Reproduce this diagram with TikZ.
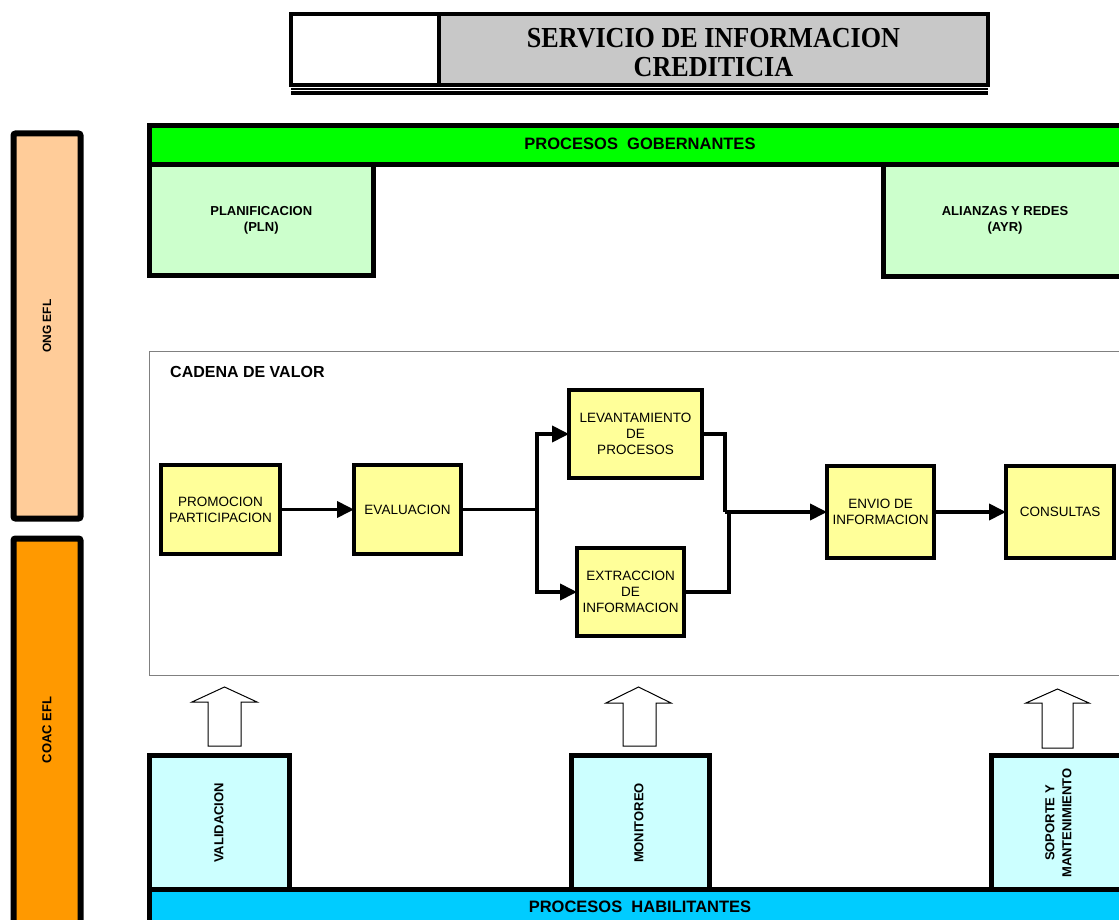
\documentclass[tikz,border=0pt]{standalone}
\usepackage{fontspec}
\setmainfont{Liberation Sans}
\newfontfamily\titlefont[FakeStretch=0.9]{Liberation Serif}
\usetikzlibrary{arrows.meta}
\definecolor{peach}{HTML}{FFCC99}
\definecolor{orangebar}{HTML}{FF9900}
\definecolor{greenbar}{HTML}{00FF00}
\definecolor{lightgreen}{HTML}{CCFFCC}
\definecolor{yellowbox}{HTML}{FFFF99}
\definecolor{lightcyan}{HTML}{CCFFFF}
\definecolor{bluebar}{HTML}{00CCFF}
\definecolor{titlegray}{HTML}{C8C8C8}
\definecolor{framegray}{HTML}{808080}
\begin{document}
\begin{tikzpicture}[x=1pt,y=-1pt,
  stepbox/.style={draw, line width=4pt, fill=yellowbox, inner sep=0pt, outer sep=0pt,
    align=center, font=\fontsize{13.5}{16}\selectfont},
  flow/.style={line width=3.8pt, -{Triangle[length=17pt,width=16pt]}},
  plain/.style={line width=3.8pt},
  heavy/.style={draw, line width=5pt},
  boldlbl/.style={font=\bfseries\fontsize{13}{16}\selectfont, align=center, inner sep=0pt},
  barlbl/.style={font=\bfseries\fontsize{16.5}{19}\selectfont, inner sep=0pt},
  blockarrow/.style={draw, line width=1pt, fill=white, line join=miter}
]
\useasboundingbox (0,0) rectangle (1119,920);
\clip (0,0) rectangle (1119,920);

% ---- title ----
\fill[titlegray] (439,14) rectangle (988,85);
\draw[line width=4pt] (291,14) rectangle (988,85);
\draw[line width=4pt] (439,14) -- (439,85);
\draw[line width=1.5pt] (291,89) -- (988,89);
\draw[line width=3.5pt] (291,93) -- (988,93);
\node[font=\titlefont\bfseries\fontsize{29}{29}\selectfont, align=center, inner sep=0pt] (title) at (713.5,52.5) {SERVICIO DE INFORMACION\\CREDITICIA};

% ---- left bars ----
\draw[line width=6pt, fill=peach, rounded corners=2pt] (13.5,133.5) rectangle (80.5,518.5);
\node[rotate=90, font=\bfseries\fontsize{12}{14}\selectfont, inner sep=0pt] (ong) at (47,326) {ONG EFL};
\draw[line width=6pt, fill=orangebar, rounded corners=2pt] (13.5,538.5) rectangle (80.5,940);
\node[rotate=90, font=\bfseries\fontsize{13}{16}\selectfont, inner sep=0pt] (coac) at (47,730) {COAC EFL};

% ---- procesos gobernantes ----
\draw[heavy, fill=lightgreen] (149.5,164.5) rectangle (373,275);
\node[boldlbl] (plan) at (261.25,220) {PLANIFICACION\\(PLN)};
\draw[heavy, fill=lightgreen] (883.5,164.5) rectangle (1126,276);
\node[boldlbl] (ayr) at (1005,220) {ALIANZAS Y REDES\\(AYR)};
\draw[heavy, fill=greenbar] (149.5,125.5) rectangle (1135,164.5);
\node[barlbl] (gob) at (640,144) {PROCESOS\ \ GOBERNANTES};

% ---- cadena de valor ----
\draw[line width=1pt, framegray] (149,351) rectangle (1135,675);
\node[font=\bfseries\fontsize{16}{19}\selectfont, anchor=west, inner sep=0pt] (cadena) at (170,372) {CADENA DE VALOR};

\node[stepbox, minimum width=119pt, minimum height=89pt] (promo) at (220.5,509.5) {PROMOCION\\PARTICIPACION};
\node[stepbox, minimum width=107pt, minimum height=89pt] (eval) at (407.5,509.5) {EVALUACION};
\node[stepbox, minimum width=133pt, minimum height=88pt] (lev) at (635.5,434) {LEVANTAMIENTO\\DE\\PROCESOS};
\node[stepbox, minimum width=107pt, minimum height=88pt] (ext) at (630.5,592) {EXTRACCION\\DE\\INFORMACION};
\node[stepbox, minimum width=107pt, minimum height=92pt] (envio) at (880.5,512) {ENVIO DE\\INFORMACION};
\node[stepbox, minimum width=108pt, minimum height=92pt] (cons) at (1060,512) {CONSULTAS};

\coordinate (split) at (537,509.5);
\coordinate (m1) at (725,512);
\coordinate (m2) at (729,512);

\draw[flow] (promo.east) -- (eval.west);
\draw[plain] (eval.east) -- (split);
\draw[flow] (split) |- (lev.west);
\draw[flow] (split) |- (ext.west);
\draw[plain] (lev.east) -| (m1);
\draw[plain] (ext.east) -| (m2);
\draw[flow] (m1) -- (envio.west);
\draw[flow] (envio.east) -- (cons.west);

% ---- up arrows ----
\draw[blockarrow] (208,746) -- (208,702) -- (192,702) -- (224.5,687) -- (257,702) -- (241,702) -- (241,746) -- cycle;
\draw[blockarrow] (623,746) -- (623,703) -- (606,703) -- (638.5,687) -- (671,703) -- (656,703) -- (656,746) -- cycle;
\draw[blockarrow] (1042,748) -- (1042,703) -- (1026,703) -- (1057.5,689) -- (1089,703) -- (1073,703) -- (1073,748) -- cycle;

% ---- procesos habilitantes ----
\draw[heavy, fill=lightcyan] (149.5,755) rectangle (289,889);
\node[rotate=90, boldlbl] (valid) at (219,823) {VALIDACION};
\draw[heavy, fill=lightcyan] (571,755) rectangle (709,889);
\node[rotate=90, boldlbl] (monit) at (639,823) {MONITOREO};
\draw[heavy, fill=lightcyan] (991.5,755) rectangle (1135,889);
\node[rotate=90, boldlbl, font=\bfseries\fontsize{13}{17}\selectfont] (sop) at (1058.5,823) {SOPORTE Y\\MANTENIMIENTO};
\draw[heavy, fill=bluebar] (149.5,889) rectangle (1135,940);
\node[barlbl] (hab) at (640,907) {PROCESOS\ \ HABILITANTES};
\end{tikzpicture}
\end{document}
